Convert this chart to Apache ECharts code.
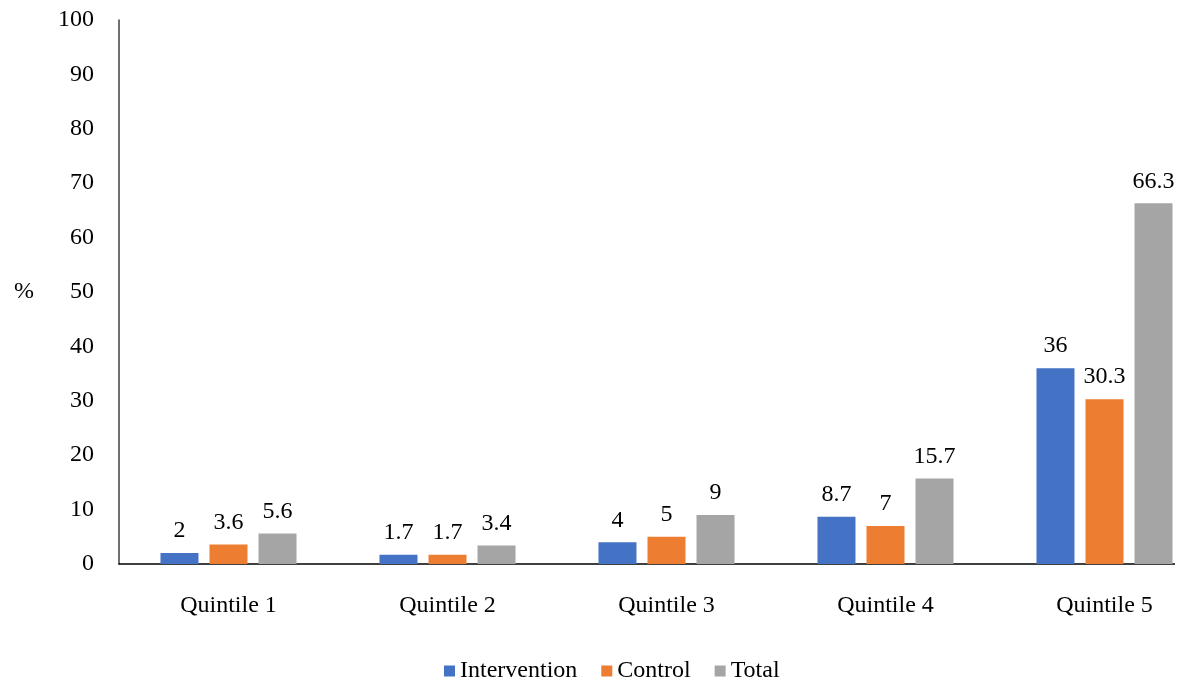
<!DOCTYPE html>
<html>
<head>
<meta charset="utf-8">
<script src="https://cdn.jsdelivr.net/npm/echarts@6/dist/echarts.min.js"></script>
<style>
  html, body { margin: 0; padding: 0; background: #fff; }
  #chart { width: 1182px; height: 677px; }
</style>
</head>
<body>
<div id="chart"></div>
<script>
// Share of households by wealth quintile, per study arm (%)
const categories = ['Quintile 1', 'Quintile 2', 'Quintile 3', 'Quintile 4', 'Quintile 5'];
const intervention = [2, 1.7, 4, 8.7, 36];
const control = [3.6, 1.7, 5, 7, 30.3];
const total = [5.6, 3.4, 9, 15.7, 66.3];
const seriesNames = ['Intervention', 'Control', 'Total'];
const colors = ['#4472C4', '#ED7D31', '#A5A5A5'];

const font = 'Liberation Serif, Times New Roman, serif';
const fs = 24;

function barSeries(name, data, color) {
  return {
    name: name,
    type: 'bar',
    data: data,
    barWidth: 38,
    barGap: '29%',
    itemStyle: { color: color },
    label: {
      show: true,
      position: 'top',
      distance: 10,
      fontFamily: font,
      fontSize: fs,
      color: '#000'
    }
  };
}

const chart = echarts.init(document.getElementById('chart'));
chart.setOption({
  animation: false,
  color: colors,
  grid: { left: 119, width: 1095, top: 20, bottom: 113, outerBoundsMode: 'none', containLabel: false },
  legend: {
    left: 439,
    top: 654,
    itemWidth: 11,
    itemHeight: 11,
    itemGap: 24,
    icon: 'rect',
    textStyle: { fontFamily: font, fontSize: fs, color: '#000' },
    data: seriesNames
  },
  xAxis: {
    type: 'category',
    data: categories,
    axisLine: { lineStyle: { color: '#000', width: 1.5 } },
    axisTick: { show: false },
    axisLabel: { fontFamily: font, fontSize: fs, color: '#000', margin: 30 }
  },
  yAxis: {
    type: 'value',
    min: 0,
    max: 100,
    interval: 10,
    name: '%',
    nameLocation: 'middle',
    nameRotate: 0,
    nameGap: 85,
    nameTextStyle: { fontFamily: font, fontSize: fs, color: '#000' },
    axisLine: { show: true, lineStyle: { color: '#404040', width: 1.5 } },
    axisTick: { show: false },
    splitLine: { show: false },
    axisLabel: { fontFamily: font, fontSize: fs, color: '#000', margin: 25 }
  },
  graphic: [{
    type: 'rect',
    shape: { x: 1175, y: 555, width: 20, height: 20 },
    style: { fill: '#fff' },
    z: 100
  }],
  series: [
    barSeries(seriesNames[0], intervention, colors[0]),
    barSeries(seriesNames[1], control, colors[1]),
    barSeries(seriesNames[2], total, colors[2])
  ]
});
</script>
</body>
</html>
